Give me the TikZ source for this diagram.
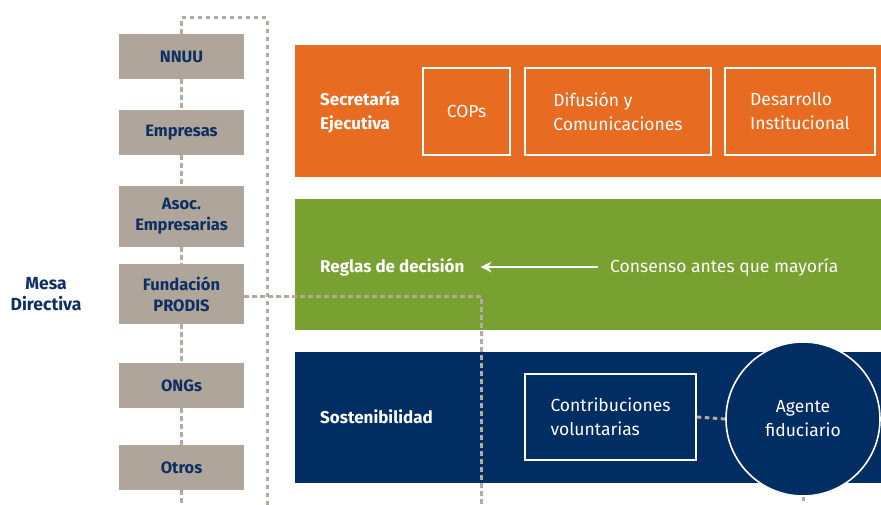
\documentclass[tikz,border=0pt]{standalone}
\usepackage{fontspec}
\setmainfont{Fira Sans}
\usetikzlibrary{arrows.meta}
\definecolor{orangeband}{HTML}{E76C21}
\definecolor{greenband}{HTML}{79A132}
\definecolor{navyband}{HTML}{002D62}
\definecolor{graybox}{HTML}{AFA59B}
\definecolor{dashgray}{HTML}{B3AAA1}
\definecolor{navytext}{HTML}{0E2F63}
\begin{document}
\begin{tikzpicture}[x=1pt,y=-1pt,
  member/.style={fill=graybox,draw=none,minimum width=125pt,text=navytext,font=\fontsize{16.5}{21}\selectfont\bfseries,align=center,inner sep=0pt},
  band/.style={draw=none,minimum width=586pt,inner sep=0pt},
  bandlabel/.style={anchor=west,text=white,font=\fontsize{17}{24}\selectfont\bfseries,align=left,inner sep=0pt},
  innerbox/.style={draw=white,line width=1.6pt,inner sep=0pt,text=white,font=\fontsize{17.5}{24}\selectfont,align=left},
  link/.style={draw=dashgray,line width=3pt,dash pattern=on 4.5pt off 3.5pt}
]
\useasboundingbox (0,0) rectangle (881,505);
% bands
\node[band,fill=orangeband,minimum height=132pt] (sec) at (588,111) {};
\node[band,fill=greenband,minimum height=131pt] (reg) at (588,264.5) {};
\node[band,fill=navyband,minimum height=131pt] (sos) at (588,417.5) {};
% band labels
\node[bandlabel] (seclab) at (320,112) {Secretaría\\Ejecutiva};
\node[bandlabel] (reglas) at (320,267) {Reglas de decisión};
\node[bandlabel] (soslab) at (320,417) {Sostenibilidad};
% inner boxes
\node[innerbox,minimum width=87pt,minimum height=87pt] (cops) at (466.5,111.5) {COPs};
\node[innerbox,minimum width=186pt,minimum height=87pt] (dif) at (618,111.5) {Difusión y\\Comunicaciones};
\node[innerbox,minimum width=150pt,minimum height=87pt] (des) at (800,111.5) {Desarrollo\\Institucional};
\node[anchor=west,text=white,font=\fontsize{17.5}{24}\selectfont,inner sep=0pt] (cons) at (610,267) {Consenso antes que mayoría};
\node[innerbox,minimum width=171pt,minimum height=86pt] (contrib) at (610.5,417) {Contribuciones\\voluntarias};
\node[innerbox,circle,fill=navyband,minimum size=154pt,align=center] (agente) at (803,419) {Agente\\fiduciario};
% arrow
\draw[white,line width=2.5pt,-{Stealth[length=11pt,width=11pt]},shorten <=12pt,shorten >=16pt] (cons.west) -- (reglas.east);
% members
\node[member,minimum height=45pt] (nnuu) at (181.5,56.5) {NNUU};
\node[member,minimum height=45pt] (emp) at (181.5,132.5) {Empresas};
\node[member,minimum height=61pt] (asoc) at (181.5,216.5) {Asoc.\\Empresarias};
\node[member,minimum height=60pt] (fund) at (181.5,294) {Fundación\\PRODIS};
\node[member,minimum height=45pt] (ongs) at (181.5,385.5) {ONGs};
\node[member,minimum height=45pt] (otros) at (181.5,467.5) {Otros};
\node[text=navytext,font=\fontsize{17.5}{21}\selectfont\bfseries,align=center,inner sep=0pt] (mesa) at (46,294) {Mesa\\Directiva};
% connector coordinates
\coordinate (topl) at (181.5,18);
\coordinate (topr) at (267,18);
\coordinate (botr) at (267,505);
\coordinate (botl) at (181.5,505);
\coordinate (fcorner) at (481,296);
\coordinate (fbot) at (481,505);
\coordinate (abot) at (803,505);
% dashed connectors
\draw[link] (nnuu.north) -- (topl) -- (topr) -- (botr);
\draw[link] (nnuu) -- (emp);
\draw[link] (emp) -- (asoc);
\draw[link] (asoc) -- (fund);
\draw[link] (fund) -- (ongs);
\draw[link] (ongs) -- (otros);
\draw[link] (otros) -- (botl);
\draw[link] (fund.east |- fcorner) -- (fcorner) -- (fbot);
\draw[link] (contrib.east) -- (agente.west);
\draw[link] (agente.south) -- (abot);
\end{tikzpicture}
\end{document}
